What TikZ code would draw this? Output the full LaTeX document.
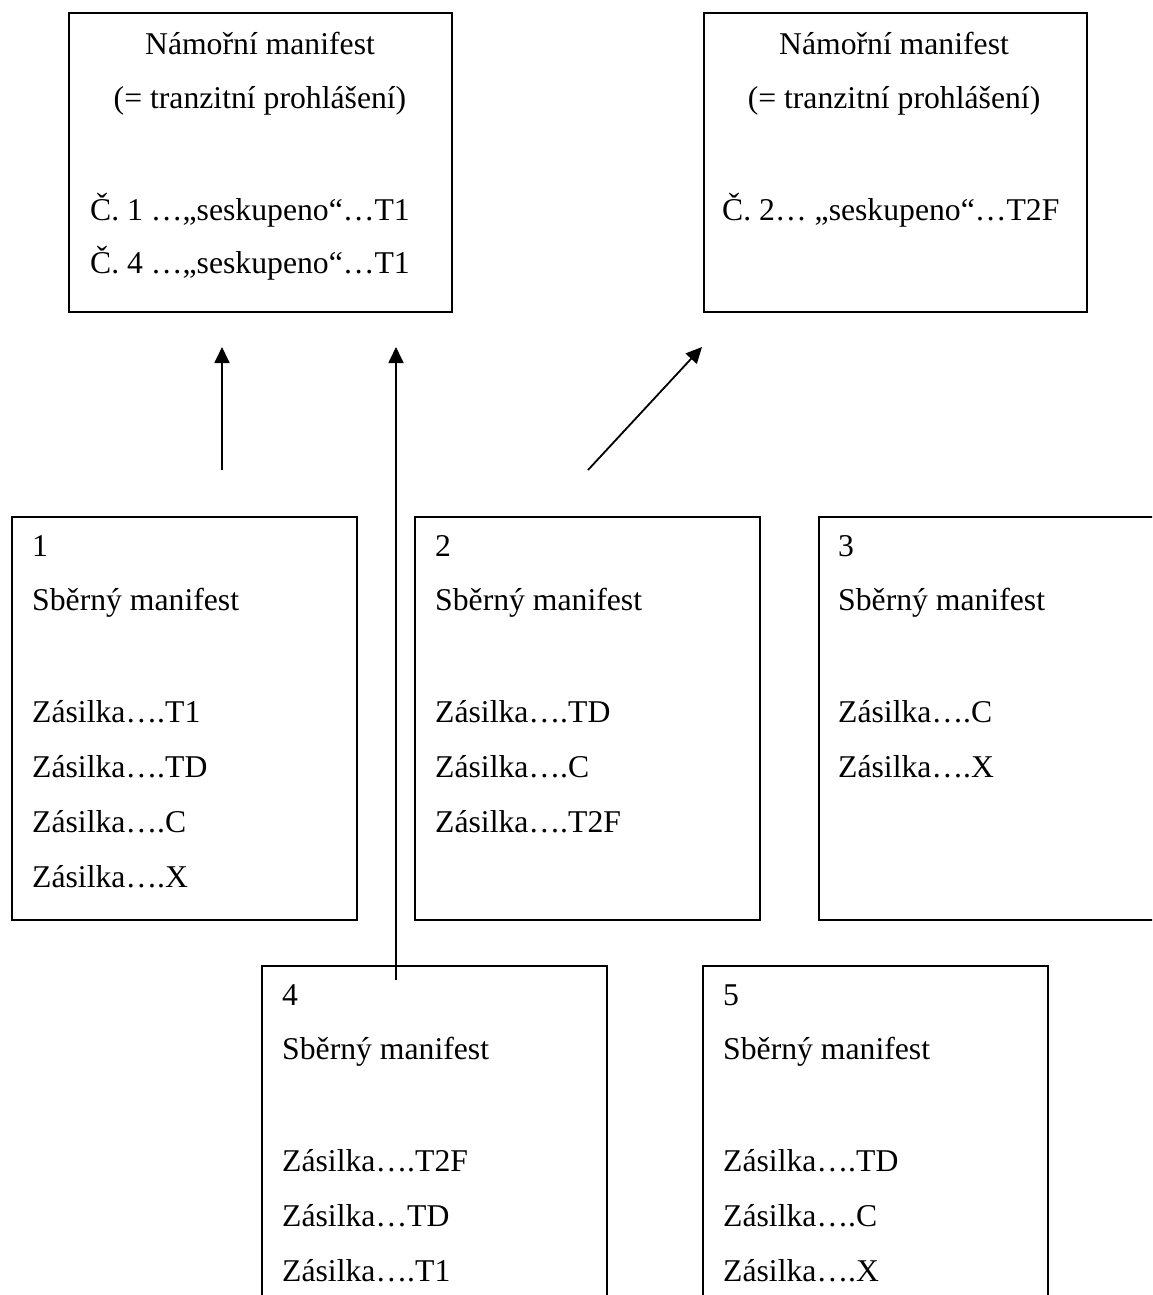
\documentclass[tikz,border=0pt]{standalone}
\usepackage{fontspec}
\setmainfont{Liberation Serif}
\usetikzlibrary{arrows.meta}
\begin{document}
\begin{tikzpicture}[x=1pt,y=-1pt,
  mbox/.style={draw, line width=1.8pt, rectangle, anchor=north west, inner sep=0pt},
  topbox/.style={mbox, minimum width=383pt, minimum height=299pt},
  subbox/.style={mbox, minimum width=345pt, minimum height=403pt},
  lbl/.style={anchor=base west, inner sep=0pt, font=\fontsize{31.7}{38}\selectfont},
  clbl/.style={lbl, anchor=base},
  conn/.style={line width=1.8pt, -{Triangle[length=16pt,width=15pt]}}]
\useasboundingbox (0,0) rectangle (1152,1295);
\clip (0,0) rectangle (1152,1295);

% sea manifests (transit declarations)
\node[topbox] (nm1) at (68,12) {};
\node[clbl] (nm1a) at (260,55) {Námořní manifest};
\node[clbl] (nm1b) at (260,109) {(= tranzitní prohlášení)};
\node[lbl] (nm1c) at (90,220) {Č. 1 …„seskupeno“…T1};
\node[lbl] (nm1d) at (90,273) {Č. 4 …„seskupeno“…T1};

\node[topbox] (nm2) at (703,12) {};
\node[clbl] (nm2a) at (894,55) {Námořní manifest};
\node[clbl] (nm2b) at (894,109) {(= tranzitní prohlášení)};
\node[lbl] (nm2c) at (722,220) {Č. 2… „seskupeno“…T2F};

% consolidated manifests 1--3
\node[subbox] (s1) at (11,516) {};
\node[lbl] (s1n) at (32,556) {1};
\node[lbl] (s1t) at (32,610) {Sběrný manifest};
\node[lbl] (s1a) at (32,722) {Zásilka….T1};
\node[lbl] (s1b) at (32,777) {Zásilka….TD};
\node[lbl] (s1c) at (32,832) {Zásilka….C};
\node[lbl] (s1d) at (32,887) {Zásilka….X};

\node[subbox] (s2) at (414,516) {};
\node[lbl] (s2n) at (435,556) {2};
\node[lbl] (s2t) at (435,610) {Sběrný manifest};
\node[lbl] (s2a) at (435,722) {Zásilka….TD};
\node[lbl] (s2b) at (435,777) {Zásilka….C};
\node[lbl] (s2c) at (435,832) {Zásilka….T2F};

\node[subbox] (s3) at (818,516) {};
\node[lbl] (s3n) at (838,556) {3};
\node[lbl] (s3t) at (838,610) {Sběrný manifest};
\node[lbl] (s3a) at (838,722) {Zásilka….C};
\node[lbl] (s3b) at (838,777) {Zásilka….X};

% consolidated manifests 4--5
\node[subbox] (s4) at (261,965) {};
\node[lbl] (s4n) at (282,1005) {4};
\node[lbl] (s4t) at (282,1059) {Sběrný manifest};
\node[lbl] (s4a) at (282,1171) {Zásilka….T2F};
\node[lbl] (s4b) at (282,1226) {Zásilka…TD};
\node[lbl] (s4c) at (282,1281) {Zásilka….T1};

\node[subbox] (s5) at (702,965) {};
\node[lbl] (s5n) at (723,1005) {5};
\node[lbl] (s5t) at (723,1059) {Sběrný manifest};
\node[lbl] (s5a) at (723,1171) {Zásilka….TD};
\node[lbl] (s5b) at (723,1226) {Zásilka….C};
\node[lbl] (s5c) at (723,1281) {Zásilka….X};

% arrows
\coordinate (a1s) at (222,470);
\coordinate (a1e) at (222,347);
\coordinate (a2s) at (396,980);
\coordinate (a2e) at (396,347);
\coordinate (a3s) at (588,470);
\coordinate (a3e) at (702,347);
\draw[conn] (a1s) -- (a1e);
\draw[conn] (a2s) -- (a2e);
\draw[conn] (a3s) -- (a3e);
\end{tikzpicture}
\end{document}
